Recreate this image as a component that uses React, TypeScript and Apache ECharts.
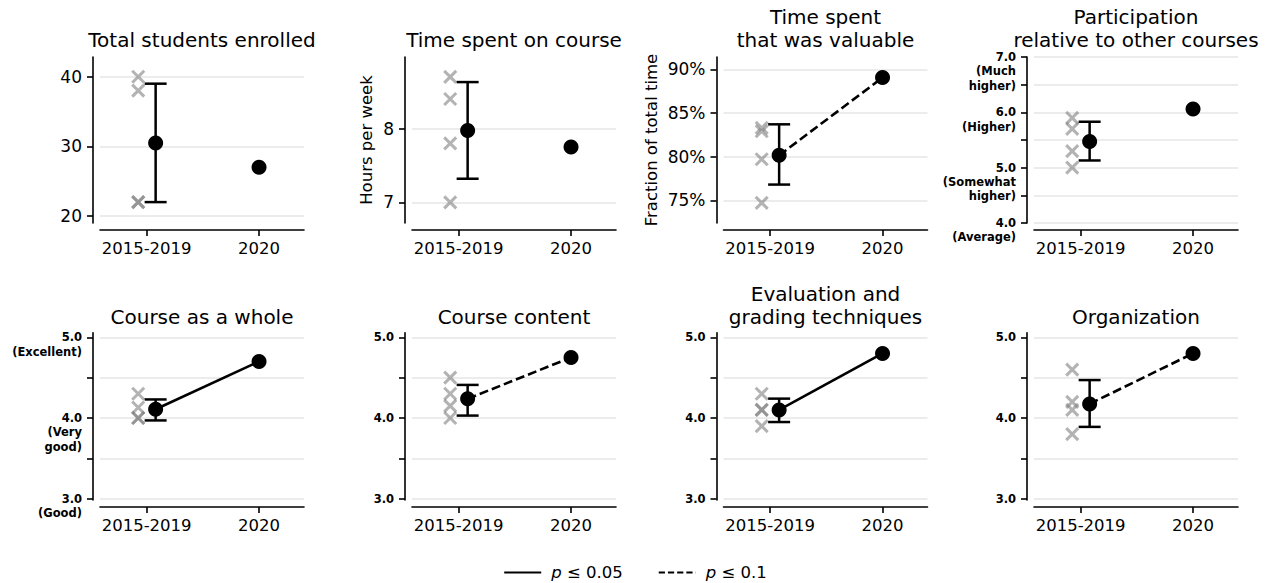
import React, { useEffect, useRef } from "react";
import * as echarts from "echarts";

// ---------- data ----------
const CATEGORIES = ["2015-2019", "2020"];

const TITLES = [
  "Total students enrolled",
  "Time spent on course",
  "Time spent\nthat was valuable",
  "Participation\nrelative to other courses",
  "Course as a whole",
  "Course content",
  "Evaluation and\ngrading techniques",
  "Organization",
];

// individual yearly values (2015-2019)
const YEARLY_VALUES = [
  [40, 38, 22, 22],
  [8.7, 8.4, 7.8, 7.0],
  [83.3, 82.9, 79.7, 74.7],
  [5.9, 5.7, 5.3, 5.0],
  [4.3, 4.13, 4.0, 4.0],
  [4.5, 4.3, 4.15, 4.0],
  [4.3, 4.1, 4.1, 3.9],
  [4.6, 4.2, 4.1, 3.8],
];
const MEANS = [30.5, 7.975, 80.15, 5.475, 4.108, 4.2375, 4.1, 4.175];
const ERR_LOW = [22, 7.32, 76.8, 5.13, 3.97, 4.03, 3.95, 3.89];
const ERR_HIGH = [39, 8.63, 83.7, 5.83, 4.23, 4.41, 4.24, 4.47];
const VALUES_2020 = [27, 7.75, 89.05, 6.06, 4.7, 4.75, 4.8, 4.8];
// significance of the change: "" = not significant
const SIGNIFICANCE = ["", "", "p ≤ 0.1", "", "p ≤ 0.05", "p ≤ 0.1", "p ≤ 0.05", "p ≤ 0.1"];
const LEGEND_NAMES = ["p ≤ 0.05", "p ≤ 0.1"];

const Y_AXIS_NAMES = ["", "Hours per week", "Fraction of total time", "", "", "", "", ""];
const Y_MIN = [19.0, 6.72, 72.4, 4.0, 2.984, 2.984, 2.984, 2.984];
const Y_MAX = [42.83, 8.97, 91.41, 7.0, 5.057, 5.057, 5.057, 5.057];
const RATING_TICKS_A = [4, 4.5, 5, 5.5, 6, 6.5, 7];
const RATING_TICKS_B = [3, 3.5, 4, 4.5, 5];
const Y_TICKS = [
  [20, 30, 40],
  [7, 8],
  [75, 80, 85, 90],
  RATING_TICKS_A,
  RATING_TICKS_B,
  RATING_TICKS_B,
  RATING_TICKS_B,
  RATING_TICKS_B,
];
const Y_LABEL_VALUES = [
  [20, 30, 40],
  [7, 8],
  [75, 80, 85, 90],
  [4, 5, 6, 7],
  [3, 4, 5],
  [3, 4, 5],
  [3, 4, 5],
  [3, 4, 5],
];
const PARTICIPATION_WORDS: Record<string, string> = {
  "4": "(Average)",
  "5": "(Somewhat\nhigher)",
  "6": "(Higher)",
  "7": "(Much\nhigher)",
};
const QUALITY_WORDS: Record<string, string> = {
  "3": "(Good)",
  "4": "(Very\ngood)",
  "5": "(Excellent)",
};
const Y_WORDS: (Record<string, string> | null)[] = [
  null, null, null, PARTICIPATION_WORDS, QUALITY_WORDS, null, null, null,
];
const Y_KIND = ["int", "int", "pct", "rating", "rating", "rating", "rating", "rating"];

// ---------- layout ----------
const FONT = "DejaVu Sans";
const COL_LEFT = [100, 412, 723.5, 1034];
const GRID_WIDTH = 204;
const ROW_TOP = [57, 332.7];
const ROW_HEIGHT = [166, 167.3];
const ROW_TITLE_CENTER = [40, 316.7];
const TITLE_LINE = 23;
const X_MIN = -0.415;
const X_MAX = 1.4;
const X_CROSS = -0.075;
const X_MEAN = 0.08;

function buildOption() {
  const grid: any[] = [];
  const xAxis: any[] = [];
  const yAxis: any[] = [];
  const extraYAxis: any[] = [];
  const series: any[] = [];
  const title: any[] = [];

  for (let i = 0; i < 8; i++) {
    const row = Math.floor(i / 4);
    const col = i % 4;
    const left = COL_LEFT[col];
    grid.push({
      left,
      top: ROW_TOP[row],
      width: GRID_WIDTH,
      height: ROW_HEIGHT[row],
      containLabel: false,
      outerBoundsMode: "none",
    });

    const nLines = TITLES[i].split("\n").length;
    title.push({
      text: TITLES[i],
      left: left + GRID_WIDTH / 2,
      textAlign: "center",
      top: ROW_TITLE_CENTER[row] - TITLE_LINE / 2 - (nLines - 1) * TITLE_LINE,
      padding: 0,
      textStyle: {
        fontFamily: FONT,
        fontSize: 20,
        fontWeight: "normal",
        color: "#000",
        lineHeight: TITLE_LINE,
      },
    });

    xAxis.push({
      type: "value",
      gridIndex: i,
      min: X_MIN,
      max: X_MAX,
      offset: 7,
      axisLine: { show: true, onZero: false, lineStyle: { color: "#000", width: 1.6 } },
      axisTick: { show: true, length: 6, customValues: [0, 1], lineStyle: { color: "#000", width: 1.6 } },
      axisLabel: {
        customValues: [0, 1],
        formatter: (v: number) => CATEGORIES[Math.round(v)],
        fontFamily: FONT,
        fontSize: 16.5,
        color: "#000",
        margin: 10,
      },
      splitLine: { show: false },
    });

    const kind = Y_KIND[i];
    const words = Y_WORDS[i];
    const isRating = kind === "rating";
    yAxis.push({
      type: "value",
      gridIndex: i,
      position: "left",
      min: Y_MIN[i],
      max: Y_MAX[i],
      offset: 7,
      name: Y_AXIS_NAMES[i],
      nameLocation: "middle",
      nameRotate: 90,
      nameGap: i === 2 ? 57 : 30,
      nameTextStyle: { fontFamily: FONT, fontSize: 16.5, color: "#000" },
      axisLine: { show: true, onZero: false, lineStyle: { color: "#000", width: 1.6 } },
      axisTick: { show: true, length: 6, customValues: Y_TICKS[i], lineStyle: { color: "#000", width: 1.6 } },
      axisLabel: {
        customValues: Y_LABEL_VALUES[i],
        showMinLabel: true,
        showMaxLabel: true,
        hideOverlap: false,
        fontFamily: FONT,
        fontSize: isRating ? 11.5 : 17,
        fontWeight: isRating ? "bold" : "normal",
        color: "#000",
        margin: 11,
        formatter: (v: number) => {
          if (kind === "pct") return `${Math.round(v)}%`;
          if (kind === "int") return `${Math.round(v)}`;
          return v.toFixed(1);
        },
      },
      splitLine: { show: true, lineStyle: { color: "#e6e6e6", width: 1.5 } },
    });

    // descriptive words under the rating numbers (second, label-only axis)
    if (words) {
      extraYAxis.push({
        type: "value",
        gridIndex: i,
        position: "left",
        min: Y_MIN[i],
        max: Y_MAX[i],
        offset: 7,
        axisLine: { show: false, onZero: false },
        axisTick: { show: false },
        splitLine: { show: false },
        axisLabel: {
          customValues: Object.keys(words).map(Number),
          showMinLabel: true,
          showMaxLabel: true,
          hideOverlap: false,
          verticalAlign: "top",
          padding: [7, 0, 0, 0],
          lineHeight: 14.5,
          fontFamily: FONT,
          fontSize: 11.5,
          fontWeight: "bold",
          color: "#000",
          margin: 11,
          formatter: (v: number) => words[String(Math.round(v))] || "",
        },
      });
    }

    // individual years
    series.push({
      type: "scatter",
      xAxisIndex: i,
      yAxisIndex: i,
      data: YEARLY_VALUES[i].map((v) => [X_CROSS, v]),
      symbol: "path://M0,0L10,10M0,10L10,0",
      symbolSize: 12,
      itemStyle: { color: "rgba(0,0,0,0)", borderColor: "#808080", borderWidth: 3, opacity: 0.6 },
      z: 2,
      silent: true,
    });

    // error bar
    series.push({
      type: "custom",
      xAxisIndex: i,
      yAxisIndex: i,
      data: [[X_MEAN, ERR_LOW[i], ERR_HIGH[i]]],
      encode: { x: 0, y: [1, 2] },
      z: 3,
      silent: true,
      renderItem: (params: any, api: any) => {
        const x = api.value(0);
        const lo = api.coord([x, api.value(1)]);
        const hi = api.coord([x, api.value(2)]);
        const half = 11;
        const style = { stroke: "#000", lineWidth: 2.5, fill: null };
        return {
          type: "group",
          children: [
            { type: "line", shape: { x1: lo[0], y1: lo[1], x2: hi[0], y2: hi[1] }, style },
            { type: "line", shape: { x1: lo[0] - half, y1: lo[1], x2: lo[0] + half, y2: lo[1] }, style },
            { type: "line", shape: { x1: hi[0] - half, y1: hi[1], x2: hi[0] + half, y2: hi[1] }, style },
          ],
        };
      },
    });

    // connecting line for significant changes
    if (SIGNIFICANCE[i]) {
      series.push({
        type: "line",
        name: SIGNIFICANCE[i],
        xAxisIndex: i,
        yAxisIndex: i,
        data: [
          [X_MEAN, MEANS[i]],
          [1, VALUES_2020[i]],
        ],
        symbol: "none",
        showSymbol: false,
        lineStyle: {
          color: "#000",
          width: 2.6,
          type: SIGNIFICANCE[i] === LEGEND_NAMES[0] ? "solid" : [9, 4],
        },
        itemStyle: { color: "#000" },
        z: 3,
        silent: true,
      });
    }

    // means
    series.push({
      type: "scatter",
      xAxisIndex: i,
      yAxisIndex: i,
      data: [
        [X_MEAN, MEANS[i]],
        [1, VALUES_2020[i]],
      ],
      symbol: "circle",
      symbolSize: 15,
      itemStyle: { color: "#000", opacity: 1 },
      z: 4,
      silent: true,
    });
  }

  return {
    animation: false,
    backgroundColor: "#fff",
    textStyle: { fontFamily: FONT },
    title,
    grid,
    xAxis,
    yAxis: yAxis.concat(extraYAxis),
    series,
    legend: {
      top: 564,
      left: "center",
      itemWidth: 37,
      itemHeight: 12,
      itemGap: 35,
      padding: 0,
      selectedMode: false,
      data: [
        {
          name: LEGEND_NAMES[0],
          itemStyle: { opacity: 0 },
          lineStyle: { type: "solid", width: 2, color: "#000" },
        },
        {
          name: LEGEND_NAMES[1],
          itemStyle: { opacity: 0 },
          lineStyle: { type: [6.2, 3], width: 2, color: "#000" },
        },
      ],
      formatter: (name: string) => `{i|p}{t|${name.slice(1)}}`,
      textStyle: {
        fontFamily: FONT,
        fontSize: 16.5,
        lineHeight: 16,
        color: "#000",
        rich: {
          i: { fontFamily: FONT, fontSize: 16.5, lineHeight: 16, fontStyle: "italic", color: "#000", padding: [0, 0, 0, 5] },
          t: { fontFamily: FONT, fontSize: 16.5, lineHeight: 16, color: "#000" },
        },
      },
    },
  };
}

export default function App() {
  const ref = useRef<HTMLDivElement>(null);
  useEffect(() => {
    if (!ref.current) return;
    const chart = echarts.init(ref.current, undefined, { renderer: "svg" });
    chart.setOption(buildOption() as any);
    return () => chart.dispose();
  }, []);
  return (
    <div
      ref={ref}
      style={{ position: "absolute", left: 0, top: 0, width: 1270, height: 583, background: "#fff" }}
    />
  );
}
